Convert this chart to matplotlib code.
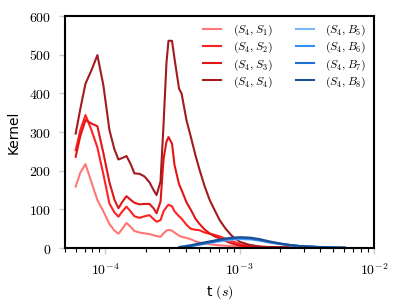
import numpy as np
import matplotlib
matplotlib.use("Agg")
import matplotlib.pyplot as plt
from matplotlib.ticker import FuncFormatter, LogLocator

plt.rcParams['mathtext.fontset'] = 'cm'
plt.rcParams['font.family'] = ['DejaVu Sans']

# time grid for the (S4, S_i) kernels
t_s = [6.0e-5, 6.5e-5, 7.1e-5, 7.87e-5, 8.71e-5, 9.66e-5, 1.071e-4, 1.167e-4, 1.25e-4,
       1.339e-4, 1.435e-4, 1.537e-4, 1.645e-4, 1.794e-4, 1.955e-4, 2.13e-4, 2.282e-4,
       2.404e-4, 2.573e-4, 2.71e-4, 2.85e-4, 2.95e-4, 3.133e-4, 3.27e-4, 3.536e-4,
       3.691e-4, 4.02e-4, 4.31e-4, 4.70e-4, 5.03e-4, 5.48e-4, 5.97e-4, 6.51e-4, 7.10e-4,
       7.86e-4, 8.72e-4, 1.0e-3, 1.187e-3, 1.46e-3, 1.92e-3, 2.81e-3, 4.70e-3]

s1 = [159, 195, 217, 170, 124, 95, 62, 45, 37, 50, 65, 55, 44, 40, 38, 36, 33, 31, 29, 38,
      45, 47, 45, 40, 32, 29, 26, 23, 17, 14, 12, 10, 8, 7, 6, 5, 4, 3, 3, 2, 2, 1]
s2 = [253, 305, 344, 305, 260, 190, 115, 92, 81, 95, 107, 95, 82, 78, 82, 85, 75, 68, 72, 95,
      106, 112, 108, 95, 82, 76, 60, 50, 47, 46, 40, 37, 34, 30, 24, 18, 10, 5, 3, 2, 1.5, 1]
s3 = [236, 290, 331, 322, 315, 245, 170, 125, 103, 120, 134, 125, 117, 113, 114, 114, 103, 90,
      120, 230, 275, 287, 270, 215, 165, 150, 118, 100, 75, 62, 48, 38, 30, 25, 18, 12, 6, 3,
      2, 1, 1, 0.5]
s4 = [296, 360, 425, 460, 499, 420, 305, 255, 229, 233, 238, 218, 193, 192, 185, 170, 150, 137,
      172, 320, 480, 536, 536, 490, 412, 400, 330, 290, 238, 202, 160, 125, 98, 72, 50, 32, 16,
      8, 3, 2, 1, 0.5]

# time grid for the (S4, B_i) kernels
t_b = [3.565e-4, 4.236e-4, 5.03e-4, 5.97e-4, 7.10e-4, 8.42e-4, 1.0e-3, 1.187e-3, 1.41e-3,
       1.675e-3, 1.99e-3, 2.36e-3, 2.81e-3, 3.63e-3, 4.70e-3, 6.06e-3]
b5 = [2, 5, 9, 13, 17, 21, 23, 22, 19, 14, 10, 7, 5, 3, 2, 1]
b6 = [3, 7, 11, 15, 19, 23, 25, 24, 20, 15, 11, 8, 5, 3, 1.5, 1]
b7 = [1, 4, 9, 14, 20, 24, 26, 25, 21, 15, 11, 7, 5, 3, 1, 0.5]
b8 = [2, 6, 12, 17, 22, 26, 28, 27, 23, 17, 12, 8, 5, 3, 1.5, 1]

red_labels = [r'$(S_4,S_1)$', r'$(S_4,S_2)$', r'$(S_4,S_3)$', r'$(S_4,S_4)$']
blue_labels = [r'$(S_4,B_5)$', r'$(S_4,B_6)$', r'$(S_4,B_7)$', r'$(S_4,B_8)$']
red_colors = ['#ff7676', '#ff2222', '#e01515', '#a31a1f']
blue_colors = ['#7ab6f5', '#3390ee', '#1f6fd6', '#1b4f94']

fig = plt.figure(figsize=(3.99, 3.06), dpi=100)
ax = fig.add_axes([0.163, 0.1895, 0.774, 0.758])

for y, c, lab in zip([s1, s2, s3, s4], red_colors, red_labels):
    ax.plot(t_s, y, color=c, lw=1.5, label=lab)
for y, c, lab in zip([b5, b6, b7, b8], blue_colors, blue_labels):
    ax.plot(t_b, y, color=c, lw=1.5, label=lab)

ax.set_xscale('log')
ax.set_xlim(5e-5, 1e-2)
ax.set_ylim(0, 600)
ax.set_yticks([0, 100, 200, 300, 400, 500, 600])
ax.xaxis.set_major_locator(LogLocator(base=10, numticks=10))
ax.xaxis.set_major_formatter(FuncFormatter(lambda v, p: r'$10^{%d}$' % round(np.log10(v))))
ax.yaxis.set_major_formatter(FuncFormatter(lambda v, p: r'$%d$' % v))

ax.tick_params(axis='both', which='major', length=4, width=1, color='#cccccc',
               labelsize=10, pad=6)
ax.tick_params(axis='x', which='minor', length=3, width=0.8, color='black')
for s in ax.spines.values():
    s.set_linewidth(1.5)
    s.set_color('black')

ax.set_xlabel(r't $(s)$', fontsize=10, labelpad=4)
ax.set_ylabel('Kernel', fontsize=10, labelpad=6)

ax.legend(ncol=2, frameon=False, fontsize=8.5, loc='upper right',
          handlelength=1.5, handletextpad=1.0, columnspacing=2.0,
          labelspacing=0.15, borderaxespad=0.4, borderpad=0.2)

fig.savefig('out.png', dpi=100)
